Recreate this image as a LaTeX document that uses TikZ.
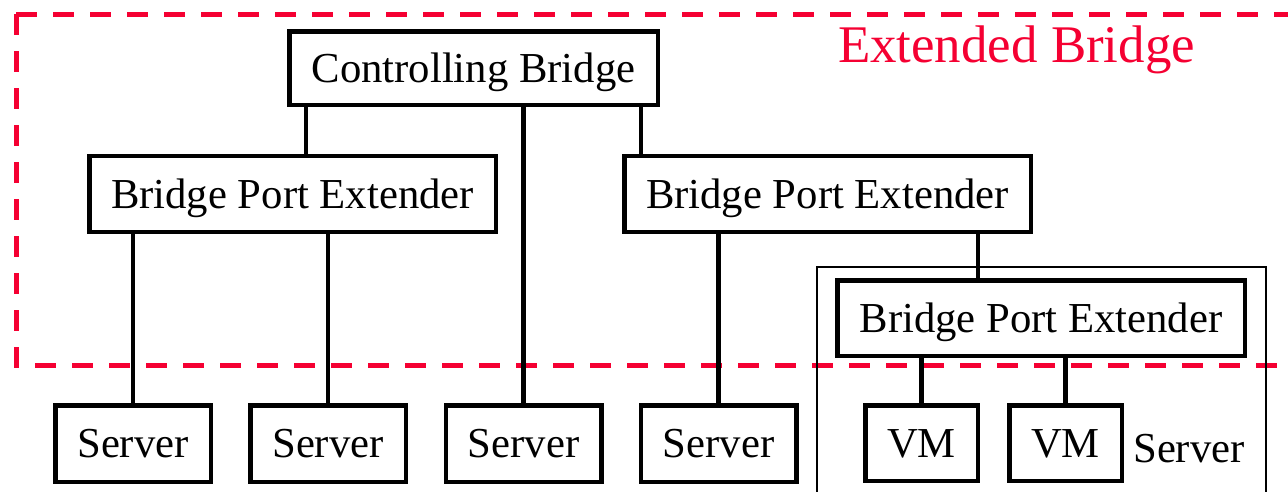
\documentclass[tikz,border=0pt]{standalone}
\usepackage{fontspec}
\setmainfont{Liberation Serif}
\definecolor{ebred}{RGB}{245,0,50}
\begin{document}
\begin{tikzpicture}[x=1pt,y=-1pt,
  box/.style={draw=black,line width=4.5pt,fill=white,inner sep=0pt,align=center,
    text height=28.4pt,text depth=0pt,
    font=\fontsize{42.7}{50}\selectfont},
  conn/.style={draw=black,line width=4.5pt},
  ebline/.style={draw=ebred,line width=5pt,dash pattern=on 21pt off 16pt}]
\useasboundingbox (0,0) rectangle (1288,491);
\fill[white] (0,0) rectangle (1288,491);
% extended bridge region
\draw[ebline] (16,14) -- (1320,14);
\draw[ebline] (16,14) -- (16,365) -- (1320,365);
\node[text=ebred,anchor=base,inner sep=0pt,font=\fontsize{52.9}{60}\selectfont] (ebl) at (1016.5,62) {Extended Bridge};
% server enclosure
\node[draw=black,line width=1.5pt,minimum width=449pt,minimum height=260pt,inner sep=0pt] (srvbox) at (1041.5,397) {};
\node[anchor=base,inner sep=0pt,font=\fontsize{42.7}{50}\selectfont] (srvl) at (1189,462) {Server};
% boxes
\node[box,minimum width=368.5pt,minimum height=73.5pt] (cb) at (473.5,68) {Controlling Bridge};
\node[box,minimum width=406.5pt,minimum height=76pt] (bpe1) at (292.5,194) {Bridge Port Extender};
\node[box,minimum width=406.5pt,minimum height=76pt] (bpe2) at (827.5,194) {Bridge Port Extender};
\node[box,minimum width=407.5pt,minimum height=75.5pt] (bpe3) at (1041,318) {Bridge Port Extender};
\node[box,minimum width=155.5pt,minimum height=76.5pt] (s1) at (133,443.5) {Server};
\node[box,minimum width=155.5pt,minimum height=76.5pt] (s2) at (328,443.5) {Server};
\node[box,minimum width=155.5pt,minimum height=76.5pt] (s3) at (523.5,443.5) {Server};
\node[box,minimum width=155.5pt,minimum height=76.5pt] (s4) at (718.5,443.5) {Server};
\node[box,minimum width=112.5pt,minimum height=75.5pt] (vm1) at (921.5,443) {VM};
\node[box,minimum width=112.5pt,minimum height=75.5pt] (vm2) at (1065.5,443) {VM};
% connectors
\draw[conn] (cb.south -| 306,0) -- (bpe1.north -| 306,0);
\draw[conn] (cb.south -| 523.5,0) -- (s3.north);
\draw[conn] (cb.south -| 641,0) -- (bpe2.north -| 641,0);
\draw[conn] (bpe1.south -| s1.north) -- (s1.north);
\draw[conn] (bpe1.south -| s2.north) -- (s2.north);
\draw[conn] (bpe2.south -| s4.north) -- (s4.north);
\draw[conn] (bpe2.south -| 978,0) -- (bpe3.north -| 978,0);
\draw[conn] (bpe3.south -| vm1.north) -- (vm1.north);
\draw[conn] (bpe3.south -| vm2.north) -- (vm2.north);
\end{tikzpicture}
\end{document}
